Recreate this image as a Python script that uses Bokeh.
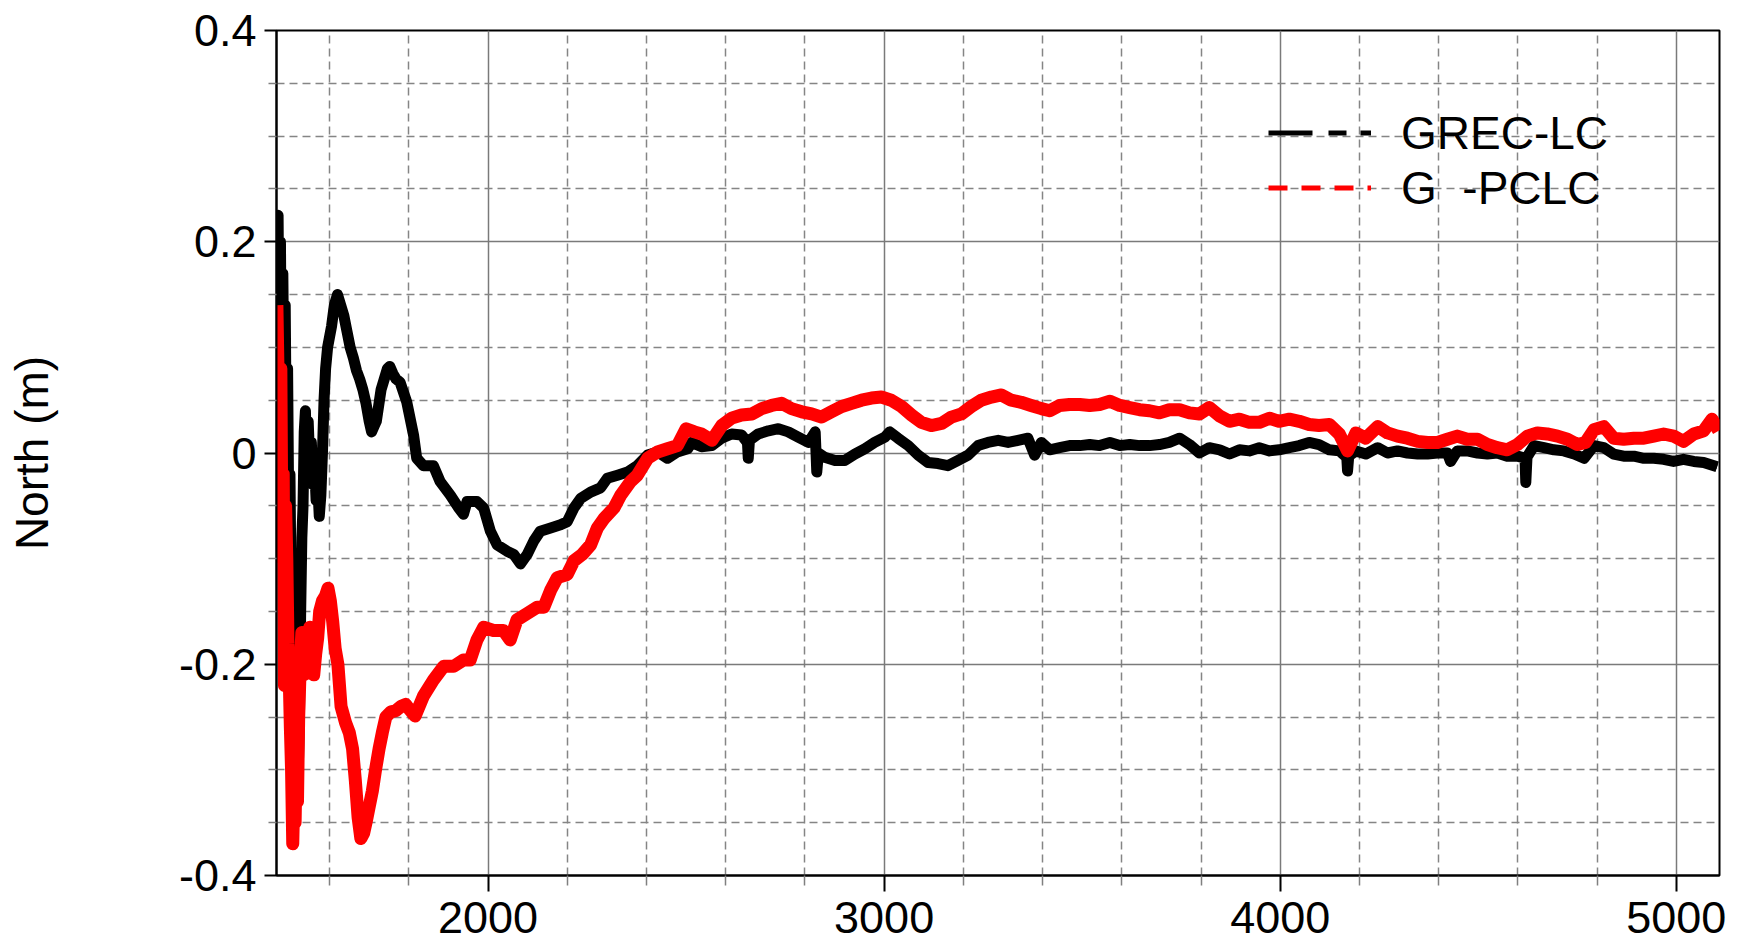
from bokeh.plotting import figure
from bokeh.models import Range1d, FixedTicker, Legend, LegendItem
from bokeh.embed import file_html
from bokeh.resources import INLINE

# ---- data: epoch (s) vs. north error (m) ----
grec_lc_t = [1467, 1470, 1473, 1476, 1479, 1482, 1485, 1488, 1491, 1494, 1497, 1500, 1503, 1506,
             1509, 1512, 1515, 1518, 1521, 1524, 1527, 1530, 1533, 1536, 1539, 1542, 1546, 1550,
             1554, 1558, 1562, 1566, 1570, 1574, 1578, 1582, 1586, 1590, 1595, 1600, 1605, 1612,
             1620, 1628, 1636, 1644, 1652, 1660, 1668, 1676, 1684, 1692, 1700, 1706, 1712, 1718,
             1724, 1730, 1738, 1746, 1752, 1760, 1768, 1778, 1795, 1812, 1820, 1837, 1862, 1879,
             1905, 1926, 1938, 1947, 1972, 1989, 2006, 2023, 2048, 2065, 2082, 2099, 2116, 2132,
             2158, 2183, 2200, 2217, 2234, 2259, 2284, 2301, 2327, 2352, 2377, 2403, 2428, 2453,
             2478, 2504, 2514, 2539, 2565, 2590, 2615, 2640, 2655, 2657, 2660, 2682, 2708, 2733,
             2758, 2783, 2809, 2826, 2830, 2834, 2850, 2876, 2901, 2926, 2951, 2976, 3002, 3014,
             3035, 3061, 3086, 3111, 3136, 3161, 3187, 3212, 3237, 3262, 3288, 3313, 3338, 3363,
             3380, 3397, 3418, 3443, 3468, 3494, 3519, 3544, 3570, 3595, 3620, 3645, 3670, 3695,
             3720, 3746, 3771, 3796, 3821, 3847, 3872, 3897, 3922, 3947, 3973, 3997, 4023, 4048,
             4073, 4098, 4124, 4149, 4168, 4170, 4173, 4191, 4216, 4246, 4271, 4296, 4321, 4347,
             4372, 4397, 4422, 4430, 4447, 4472, 4498, 4523, 4548, 4573, 4599, 4618, 4620, 4623,
             4641, 4666, 4691, 4716, 4742, 4767, 4792, 4817, 4842, 4867, 4893, 4918, 4943, 4968,
             4993, 5018, 5044, 5069, 5103]
grec_lc_n = [0.12, 0.225, 0.08, 0.20, 0.03, 0.17, 0.05, 0.14, 0.00, 0.08, -0.06, -0.02, -0.14, -0.10,
             -0.20, -0.16, -0.26, -0.22, -0.30, -0.25, -0.15, -0.08, -0.05, 0.02, 0.04, 0.00, 0.03, -0.01,
             0.01, -0.03, -0.01, -0.045, -0.03, -0.06, -0.04, 0.00, 0.05, 0.08, 0.10, 0.11, 0.12, 0.14,
             0.15, 0.14, 0.13, 0.115, 0.10, 0.09, 0.078, 0.07, 0.06, 0.047, 0.03, 0.02, 0.025, 0.03,
             0.045, 0.06, 0.07, 0.08, 0.082, 0.075, 0.07, 0.067, 0.048, 0.017, -0.005, -0.012, -0.012, -0.027,
             -0.040, -0.052, -0.058, -0.046, -0.046, -0.052, -0.074, -0.087, -0.093, -0.096, -0.105, -0.096, -0.083, -0.074,
             -0.071, -0.068, -0.065, -0.052, -0.043, -0.037, -0.033, -0.024, -0.021, -0.018, -0.012, -0.002, 0.001, -0.005,
             0.001, 0.004, 0.010, 0.006, 0.007, 0.014, 0.018, 0.017, 0.010, -0.005, 0.012, 0.018, 0.021, 0.023,
             0.020, 0.015, 0.010, 0.020, -0.018, 0.000, -0.004, -0.007, -0.007, -0.001, 0.004, 0.010, 0.015, 0.020,
             0.014, 0.007, -0.002, -0.009, -0.010, -0.012, -0.007, -0.002, 0.007, 0.010, 0.012, 0.010, 0.012, 0.014,
             -0.002, 0.010, 0.003, 0.005, 0.007, 0.007, 0.008, 0.007, 0.010, 0.007, 0.008, 0.007, 0.007, 0.008,
             0.010, 0.014, 0.008, 0.000, 0.005, 0.003, -0.001, 0.003, 0.002, 0.005, 0.002, 0.003, 0.005, 0.007,
             0.010, 0.008, 0.003, 0.002, -0.004, -0.017, -0.003, 0.002, -0.001, 0.005, 0.000, 0.002, 0.000, -0.001,
             -0.001, 0.000, 0.000, -0.008, 0.002, 0.002, 0.000, -0.001, 0.000, -0.003, -0.003, -0.005, -0.028, -0.004,
             0.007, 0.005, 0.003, 0.002, -0.001, -0.005, 0.007, 0.005, -0.001, -0.003, -0.003, -0.005, -0.005, -0.006,
             -0.008, -0.006, -0.008, -0.009, -0.013]

g_pclc_t = [1467, 1471, 1474, 1477, 1480, 1483, 1486, 1489, 1492, 1495, 1498, 1501, 1504, 1507,
            1510, 1513, 1516, 1519, 1522, 1526, 1530, 1535, 1540, 1545, 1550, 1555, 1560, 1565,
            1570, 1575, 1582, 1590, 1596, 1602, 1608, 1614, 1621, 1629, 1640, 1650, 1658, 1665,
            1672, 1679, 1686, 1692, 1700, 1708, 1716, 1725, 1733, 1742, 1755, 1767, 1780, 1792,
            1800, 1816, 1837, 1862, 1888, 1913, 1938, 1955, 1972, 1989, 2014, 2039, 2056, 2073,
            2099, 2124, 2141, 2158, 2175, 2200, 2217, 2238, 2259, 2276, 2293, 2318, 2335, 2360,
            2377, 2403, 2428, 2453, 2478, 2500, 2521, 2539, 2565, 2590, 2615, 2640, 2666, 2691,
            2716, 2741, 2766, 2792, 2817, 2842, 2867, 2893, 2918, 2943, 2968, 2993, 3018, 3044,
            3069, 3094, 3119, 3145, 3170, 3195, 3220, 3245, 3271, 3296, 3321, 3346, 3371, 3397,
            3418, 3443, 3468, 3494, 3519, 3544, 3570, 3595, 3620, 3645, 3670, 3695, 3720, 3746,
            3771, 3796, 3821, 3847, 3872, 3897, 3922, 3947, 3973, 3997, 4023, 4048, 4073, 4098,
            4124, 4149, 4170, 4191, 4216, 4246, 4271, 4296, 4321, 4347, 4372, 4397, 4422, 4447,
            4472, 4498, 4523, 4548, 4573, 4599, 4624, 4649, 4674, 4700, 4725, 4750, 4771, 4792,
            4817, 4842, 4867, 4893, 4918, 4943, 4968, 4993, 5018, 5044, 5069, 5090, 5107]
g_pclc_n = [0.14, 0.05, -0.03, 0.08, -0.10, -0.02, -0.22, -0.05, -0.10, -0.18, -0.21, -0.26, -0.30, -0.37,
            -0.32, -0.35, -0.28, -0.33, -0.25, -0.20, -0.17, -0.21, -0.18, -0.19, -0.165, -0.18, -0.21, -0.19,
            -0.175, -0.15, -0.14, -0.135, -0.128, -0.14, -0.16, -0.185, -0.20, -0.24, -0.255, -0.265, -0.28, -0.31,
            -0.345, -0.365, -0.36, -0.35, -0.335, -0.32, -0.30, -0.28, -0.265, -0.25, -0.245, -0.244, -0.24, -0.238,
            -0.242, -0.249, -0.230, -0.215, -0.202, -0.202, -0.196, -0.196, -0.177, -0.165, -0.168, -0.168, -0.177, -0.158,
            -0.152, -0.146, -0.146, -0.130, -0.118, -0.115, -0.102, -0.096, -0.087, -0.071, -0.062, -0.052, -0.040, -0.027,
            -0.021, -0.005, 0.001, 0.004, 0.007, 0.023, 0.020, 0.018, 0.012, 0.026, 0.033, 0.036, 0.037, 0.042,
            0.045, 0.047, 0.042, 0.039, 0.037, 0.034, 0.039, 0.044, 0.047, 0.050, 0.052, 0.053, 0.050, 0.044,
            0.036, 0.029, 0.026, 0.028, 0.034, 0.037, 0.044, 0.050, 0.053, 0.055, 0.050, 0.048, 0.045, 0.042,
            0.040, 0.045, 0.046, 0.046, 0.045, 0.046, 0.049, 0.045, 0.043, 0.041, 0.040, 0.038, 0.041, 0.041,
            0.038, 0.037, 0.043, 0.035, 0.030, 0.032, 0.029, 0.029, 0.033, 0.030, 0.032, 0.030, 0.027, 0.026,
            0.027, 0.018, 0.002, 0.019, 0.014, 0.025, 0.019, 0.016, 0.014, 0.011, 0.010, 0.010, 0.013, 0.016,
            0.013, 0.013, 0.008, 0.005, 0.003, 0.008, 0.016, 0.019, 0.018, 0.016, 0.013, 0.008, 0.010, 0.022,
            0.025, 0.014, 0.013, 0.014, 0.014, 0.016, 0.018, 0.016, 0.011, 0.018, 0.021, 0.032, 0.021]

x_major = [2000, 3000, 4000, 5000]
x_minor = [1600, 1800, 2200, 2400, 2600, 2800, 3200, 3400, 3600, 3800, 4200, 4400, 4600, 4800]
y_major = [-0.4, -0.2, 0, 0.2, 0.4]
y_minor = [-0.35, -0.3, -0.25, -0.15, -0.1, -0.05, 0.05, 0.1, 0.15, 0.25, 0.3, 0.35]
y_labels = {-0.4: "-0.4", -0.2: "-0.2", 0: "0", 0.2: "0.2", 0.4: "0.4"}
series_names = ["GREC-LC", "G  -PCLC"]

FONT = "Liberation Sans"

p = figure(width=1737, height=944, output_backend="svg", toolbar_location=None,
           x_range=Range1d(1466, 5109), y_range=Range1d(-0.4, 0.4),
           min_border_left=276, min_border_right=18, min_border_top=30, min_border_bottom=69)
p.background_fill_color = "white"
p.border_fill_color = "white"
p.outline_line_color = "black"
p.outline_line_width = 2

# axes
p.xaxis.ticker = FixedTicker(ticks=x_major, minor_ticks=x_minor)
p.yaxis.ticker = FixedTicker(ticks=y_major, minor_ticks=y_minor)
p.yaxis.major_label_overrides = y_labels
for ax in (p.xaxis, p.yaxis):
    ax.axis_line_color = "black"
    ax.axis_line_width = 2
    ax.major_tick_line_color = "black"
    ax.major_tick_line_width = 2
    ax.major_tick_in = 0
    ax.minor_tick_in = 0
    ax.minor_tick_line_color = "#808080"
    ax.minor_tick_line_width = 1.5
    ax.major_label_text_font = FONT
    ax.major_label_text_font_size = "45px"
    ax.major_label_text_color = "black"
p.yaxis.major_tick_out = 12
p.yaxis.minor_tick_out = 8
p.yaxis.major_label_standoff = 8
p.xaxis.major_tick_out = 16
p.xaxis.minor_tick_out = 10
p.xaxis.major_label_standoff = 10

p.yaxis.axis_label = "North (m)"
p.yaxis.axis_label_text_font = FONT
p.yaxis.axis_label_text_font_size = "46px"
p.yaxis.axis_label_text_font_style = "normal"
p.yaxis.axis_label_text_color = "black"
p.yaxis.axis_label_standoff = 118

# grid
for g in (p.xgrid, p.ygrid):
    g.grid_line_color = "#7a7a7a"
    g.grid_line_width = 1.5
    g.minor_grid_line_color = "#858585"
    g.minor_grid_line_width = 1.5
    g.minor_grid_line_dash = "8 5"

# dashed strokes of each solution (they set the legend keys; the solid traces cover them)
key_black = p.line(grec_lc_t, grec_lc_n, line_color="black", line_width=5, line_dash="44 16 18 14")
key_red = p.line(g_pclc_t, g_pclc_n, line_color="#ff0000", line_width=5, line_dash="19 14")

# series
p.line(grec_lc_t, grec_lc_n, line_color="black", line_width=11, line_join="round")
p.line(g_pclc_t, g_pclc_n, line_color="#ff0000", line_width=13, line_join="round")

legend = Legend(items=[LegendItem(label=series_names[0], renderers=[key_black]),
                       LegendItem(label=series_names[1], renderers=[key_red])],
                location=(992, 660), orientation="vertical")
legend.background_fill_alpha = 0
legend.border_line_alpha = 0
legend.padding = 0
legend.margin = 0
legend.spacing = 0
legend.glyph_width = 103
legend.glyph_height = 55
legend.label_height = 55
legend.label_standoff = 30
legend.label_text_font = FONT
legend.label_text_font_size = "46px"
legend.label_text_color = "black"
p.add_layout(legend, "center")

open("out.html", "w").write(file_html(p, INLINE))
